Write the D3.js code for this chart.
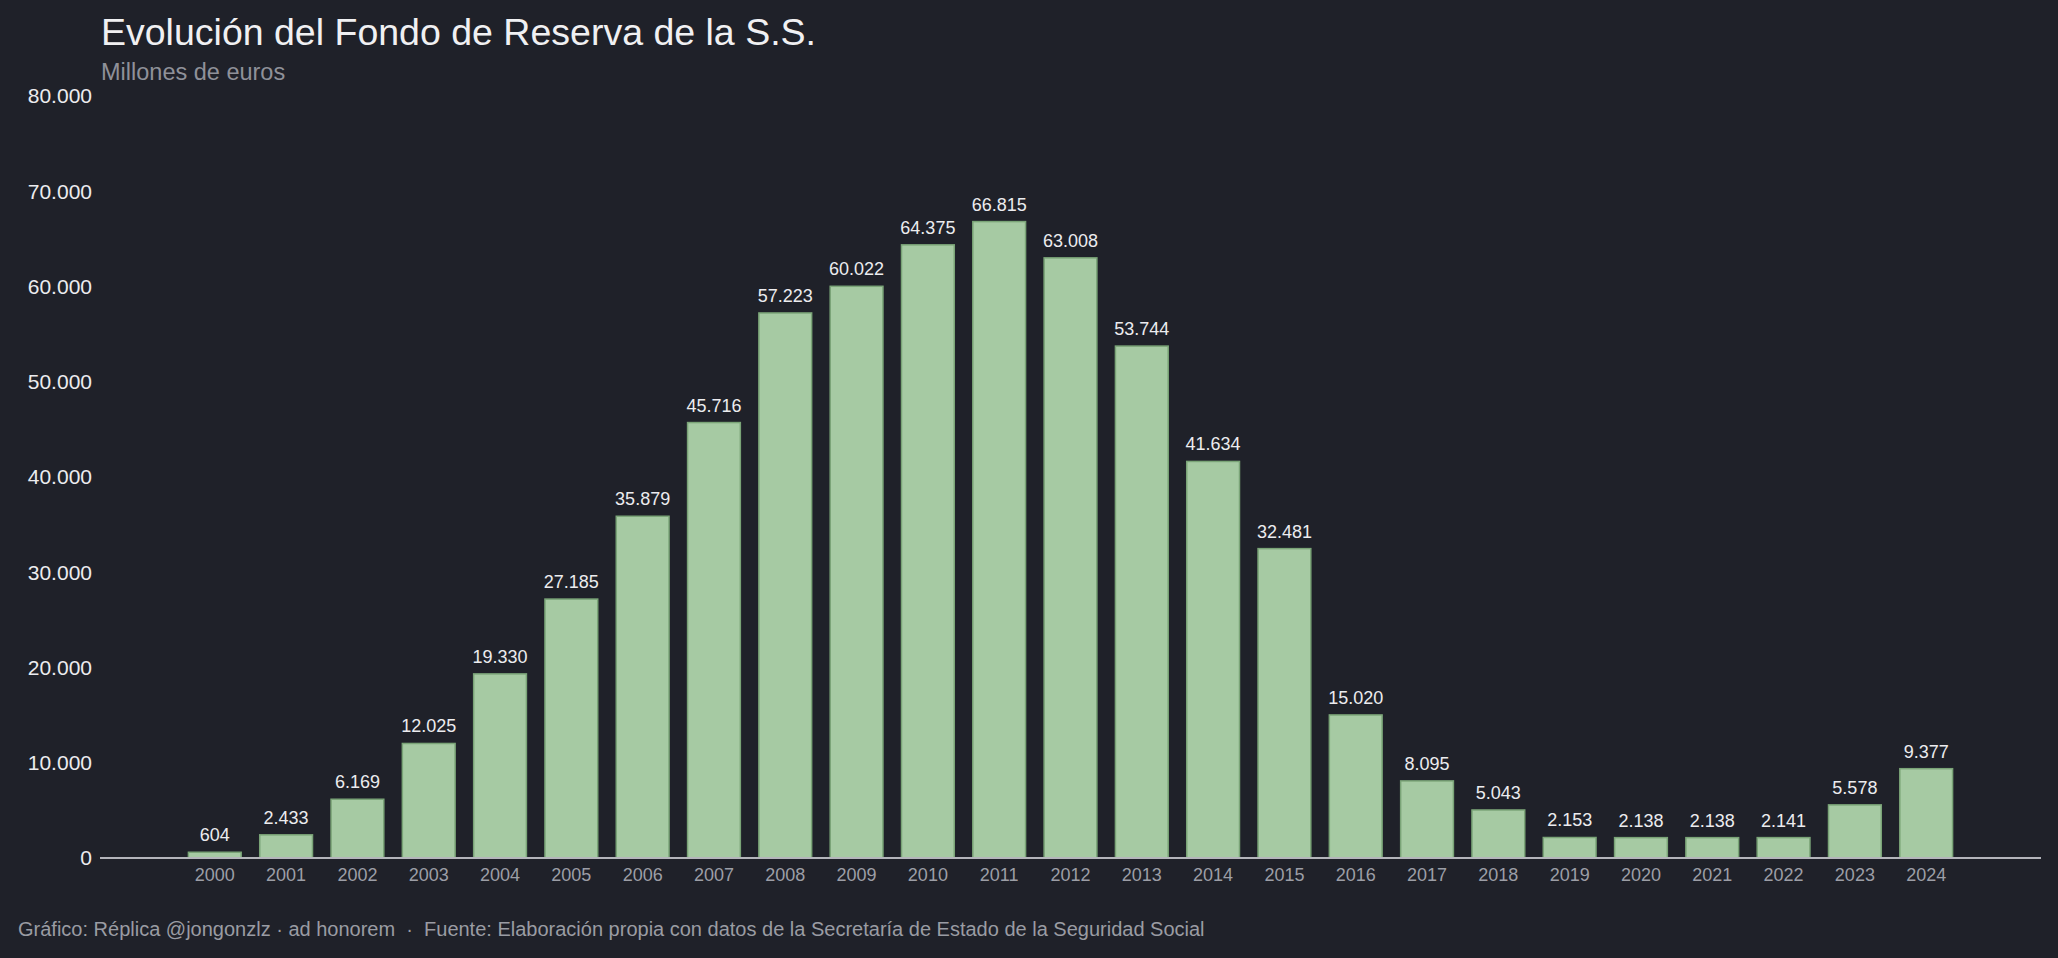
<!DOCTYPE html>
<meta charset="utf-8">
<script src="https://d3js.org/d3.v7.min.js"></script>
<style>
  html, body { margin: 0; padding: 0; background: #1f2129; }
  text { font-family: "Liberation Sans", Arial, sans-serif; }
</style>
<div id="chart"></div>
<script>

    // datos (millones de euros)
    const years = ["2000","2001","2002","2003","2004","2005","2006","2007","2008","2009","2010","2011",
                   "2012","2013","2014","2015","2016","2017","2018","2019","2020","2021","2022","2023","2024"];
    const fondo = [604, 2433, 6169, 12025, 19330, 27185, 35879, 45716, 57223, 60022, 64375, 66815,
                   63008, 53744, 41634, 32481, 15020, 8095, 5043, 2153, 2138, 2138, 2141, 5578, 9377];
    const yTicks = [0, 10000, 20000, 30000, 40000, 50000, 60000, 70000, 80000];

    const title = "Evolución del Fondo de Reserva de la S.S.";
    const subtitle = "Millones de euros";
    const footer = "Gráfico: Réplica @jongonzlz · ad honorem  ·  Fuente: Elaboración propia con datos de la Secretaría de Estado de la Seguridad Social";

    const W = 2058, H = 958;
    const margin = {top: 96, bottom: 100, left: 100, right: 17};

    const es = d3.formatLocale({decimal: ",", thousands: ".", grouping: [3], currency: ["", " €"]});
    const fmt = es.format(",d");

    const svg = d3.select("#chart")
      .append("svg")
        .attr("width", W)
        .attr("height", H)
        .style("display", "block");

    svg.append("rect")
        .attr("width", W)
        .attr("height", H)
        .attr("fill", "#1f2129");

    const x = d3.scaleBand()
        .domain(years)
        .range([margin.left, W - margin.right])
        .paddingInner(0.26)
        .paddingOuter(1.24);

    const y = d3.scaleLinear()
        .domain([0, 80000])
        .range([H - margin.bottom, margin.top]);

    // eje y
    svg.append("g")
        .selectAll("text")
        .data(yTicks)
        .join("text")
          .attr("x", 92)
          .attr("y", d => y(d))
          .attr("dy", "0.35em")
          .attr("text-anchor", "end")
          .attr("fill", "#ececef")
          .style("font-size", "21px")
          .text(d => fmt(d));

    // barras
    svg.append("g")
        .selectAll("rect")
        .data(fondo)
        .join("rect")
          .attr("x", (d, i) => x(years[i]))
          .attr("y", d => y(d))
          .attr("width", x.bandwidth())
          .attr("height", d => y(0) - y(d))
          .attr("fill", "#a6caa3")
          .attr("stroke", "#7aa477")
          .attr("stroke-width", 1.5);

    // etiquetas de valor
    svg.append("g")
        .selectAll("text")
        .data(fondo)
        .join("text")
          .attr("x", (d, i) => x(years[i]) + x.bandwidth() / 2)
          .attr("y", d => y(d) - 11)
          .attr("text-anchor", "middle")
          .attr("fill", "#ececef")
          .style("font-size", "18px")
          .text(d => fmt(d));

    // eje x
    svg.append("line")
        .attr("x1", margin.left)
        .attr("x2", W - margin.right)
        .attr("y1", y(0))
        .attr("y2", y(0))
        .attr("stroke", "#b4b5bb")
        .attr("stroke-width", 2);

    svg.append("g")
        .selectAll("text")
        .data(years)
        .join("text")
          .attr("x", d => x(d) + x.bandwidth() / 2)
          .attr("y", y(0) + 23)
          .attr("text-anchor", "middle")
          .attr("fill", "#9c9ea6")
          .style("font-size", "18px")
          .text(d => d);

    // títulos
    svg.append("text")
        .attr("x", 101)
        .attr("y", 45)
        .attr("fill", "#f0f0f2")
        .style("font-size", "37.5px")
        .text(title);

    svg.append("text")
        .attr("x", 101)
        .attr("y", 80)
        .attr("fill", "#8f9199")
        .style("font-size", "23.5px")
        .text(subtitle);

    svg.append("text")
        .attr("x", 18)
        .attr("y", 936)
        .attr("fill", "#9a9ca3")
        .style("font-size", "20px")
        .style("white-space", "pre")
        .text(footer);
</script>
